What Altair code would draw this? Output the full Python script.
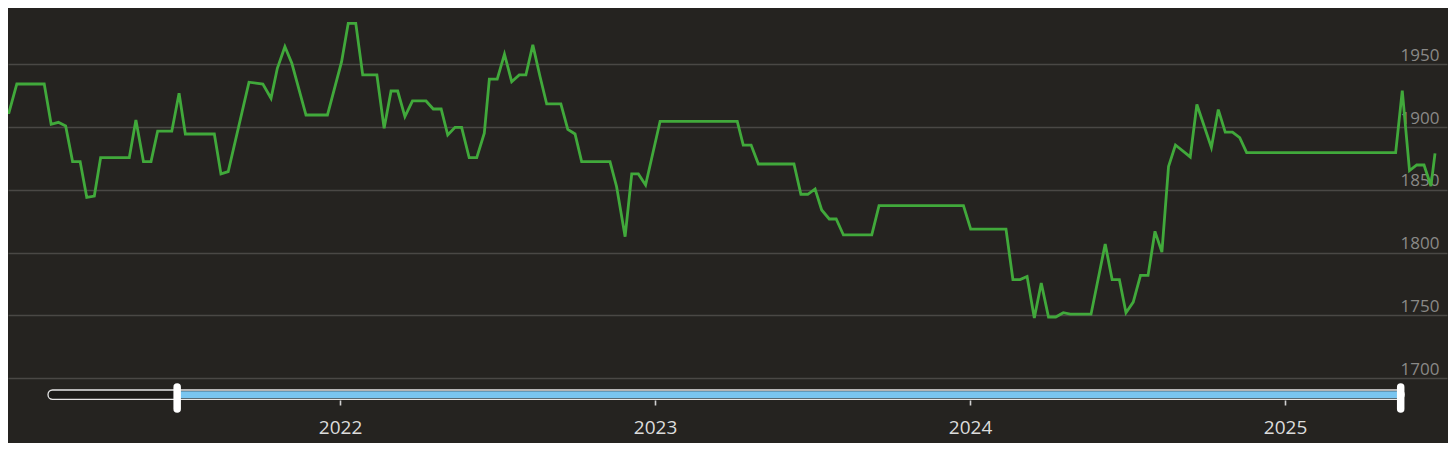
import altair as alt
import pandas as pd

# decimal-year positions and values
years = [2020.927, 2020.949, 2020.974, 2021.061, 2021.083, 2021.106, 2021.129, 2021.151,
         2021.175, 2021.196, 2021.220, 2021.240, 2021.331, 2021.352, 2021.376, 2021.400,
         2021.421, 2021.466, 2021.489, 2021.509, 2021.601, 2021.622, 2021.645, 2021.711,
         2021.755, 2021.781, 2021.801, 2021.825, 2021.847, 2021.892, 2021.960, 2022.005,
         2022.026, 2022.050, 2022.072, 2022.117, 2022.140, 2022.162, 2022.183, 2022.206,
         2022.230, 2022.273, 2022.296, 2022.321, 2022.342, 2022.365, 2022.386, 2022.410,
         2022.434, 2022.458, 2022.474, 2022.499, 2022.522, 2022.545, 2022.569, 2022.590,
         2022.612, 2022.635, 2022.656, 2022.701, 2022.723, 2022.746, 2022.767, 2022.857,
         2022.878, 2022.905, 2022.926, 2022.947, 2022.970, 2023.016, 2023.261, 2023.280,
         2023.305, 2023.328, 2023.441, 2023.463, 2023.485, 2023.508, 2023.529, 2023.553,
         2023.575, 2023.598, 2023.688, 2023.711, 2023.979, 2024.002, 2024.114, 2024.136,
         2024.159, 2024.181, 2024.204, 2024.226, 2024.249, 2024.272, 2024.296, 2024.318,
         2024.384, 2024.429, 2024.451, 2024.474, 2024.495, 2024.518, 2024.541, 2024.565,
         2024.587, 2024.609, 2024.630, 2024.652, 2024.699, 2024.720, 2024.766, 2024.788,
         2024.810, 2024.833, 2024.856, 2024.878, 2025.351, 2025.372, 2025.395, 2025.418,
         2025.441, 2025.463, 2025.476]

values = [1911.5, 1911.5, 1934.3, 1934.3, 1902.2, 1903.8, 1900.9, 1872.5,
          1872.5, 1844.1, 1845.1, 1875.6, 1875.6, 1905.7, 1872.5, 1872.5,
          1896.7, 1896.7, 1926.9, 1894.5, 1894.5, 1862.7, 1864.5, 1935.7,
          1934.3, 1922.9, 1946.8, 1964.0, 1950.8, 1909.6, 1909.6, 1952.1,
          1982.6, 1982.6, 1941.5, 1941.5, 1899.0, 1928.7, 1928.7, 1908.3,
          1920.8, 1920.8, 1914.4, 1914.4, 1893.7, 1899.8, 1899.8, 1875.6,
          1875.6, 1895.1, 1938.1, 1938.1, 1958.0, 1936.1, 1941.5, 1941.5,
          1965.4, 1940.1, 1918.4, 1918.4, 1898.2, 1894.5, 1872.5, 1872.5,
          1852.5, 1812.7, 1862.7, 1862.7, 1853.9, 1904.6, 1904.6, 1885.7,
          1885.7, 1870.6, 1870.6, 1846.5, 1846.5, 1850.7, 1834.0, 1826.8,
          1826.8, 1814.1, 1814.1, 1837.4, 1837.4, 1818.7, 1818.7, 1778.6,
          1778.6, 1781.1, 1748.0, 1775.9, 1748.8, 1748.8, 1752.2, 1751.0,
          1751.0, 1806.9, 1778.6, 1778.6, 1752.2, 1760.6, 1781.9, 1781.9,
          1817.0, 1800.4, 1868.5, 1885.7, 1876.2, 1918.0, 1883.8, 1913.9,
          1895.9, 1895.9, 1891.5, 1879.6, 1879.6, 1929.0, 1865.3, 1869.8,
          1869.8, 1853.1, 1879.1]

y_ticks = [1700, 1750, 1800, 1850, 1900, 1950]
x_ticks = [2022, 2023, 2024, 2025]

# range navigator (decimal years)
track_range = [2021.073, 2025.378]
selected_range = [2021.483, 2025.367]

BG = "#252320"
x_dom = [2020.946, 2025.514]
y_dom = [1682.7, 1994.8]

df = pd.DataFrame({"year": years, "value": values})

xscale = alt.Scale(domain=x_dom, nice=False, zero=False)

line = alt.Chart(df).mark_line(color="#41a93b", strokeWidth=2.8, clip=True, strokeJoin="miter").encode(
    x=alt.X("year:Q", scale=xscale,
            axis=alt.Axis(values=x_ticks, format="d", title=None, grid=False, domain=False,
                          tickColor="#d0d0d0", tickSize=5, tickWidth=1.6,
                          labelFont="Open Sans", labelFontSize=19, labelColor="#dcdcdc",
                          labelPadding=13)),
    y=alt.Y("value:Q", scale=alt.Scale(domain=y_dom, nice=False, zero=False),
            axis=alt.Axis(orient="right", values=y_ticks, format="d", title=None, domain=False,
                          ticks=False, tickSize=0, grid=True, gridColor="#4a4845",
                          gridWidth=1.3, labelAlign="right", labelBaseline="bottom",
                          labelPadding=-8, labelFont="Open Sans", labelFontSize=17,
                          labelColor="#8a8987")),
)

track_df = pd.DataFrame({"start": [track_range[0]], "end": [track_range[1]]})
sel_df = pd.DataFrame({"start": [selected_range[0]], "end": [selected_range[1]]})
handle_df = pd.DataFrame({"pos": selected_range})

track = alt.Chart(track_df).mark_rect(fill="#1b1a18", stroke="#e6e6e6", strokeWidth=1.3,
                                      cornerRadius=4.5).encode(
    x=alt.X("start:Q", scale=xscale), x2="end:Q",
    y=alt.value(382), y2=alt.value(391.3))

sel = alt.Chart(sel_df).mark_rect(fill="#79c5f0").encode(
    x=alt.X("start:Q", scale=xscale), x2="end:Q",
    y=alt.value(383.2), y2=alt.value(390.3))

handles = alt.Chart(handle_df).mark_rule(color="#ffffff", strokeWidth=7.5, strokeCap="round").encode(
    x=alt.X("pos:Q", scale=xscale), y=alt.value(379), y2=alt.value(401))

chart = alt.layer(line, track, sel, handles).properties(
    width=1439, height=392, background=BG,
    padding={"left": 0, "top": 0, "right": 1, "bottom": 6},
).configure_view(stroke=None, fill=BG)

chart.save("out.html", embed_options={"renderer": "svg", "actions": False})
